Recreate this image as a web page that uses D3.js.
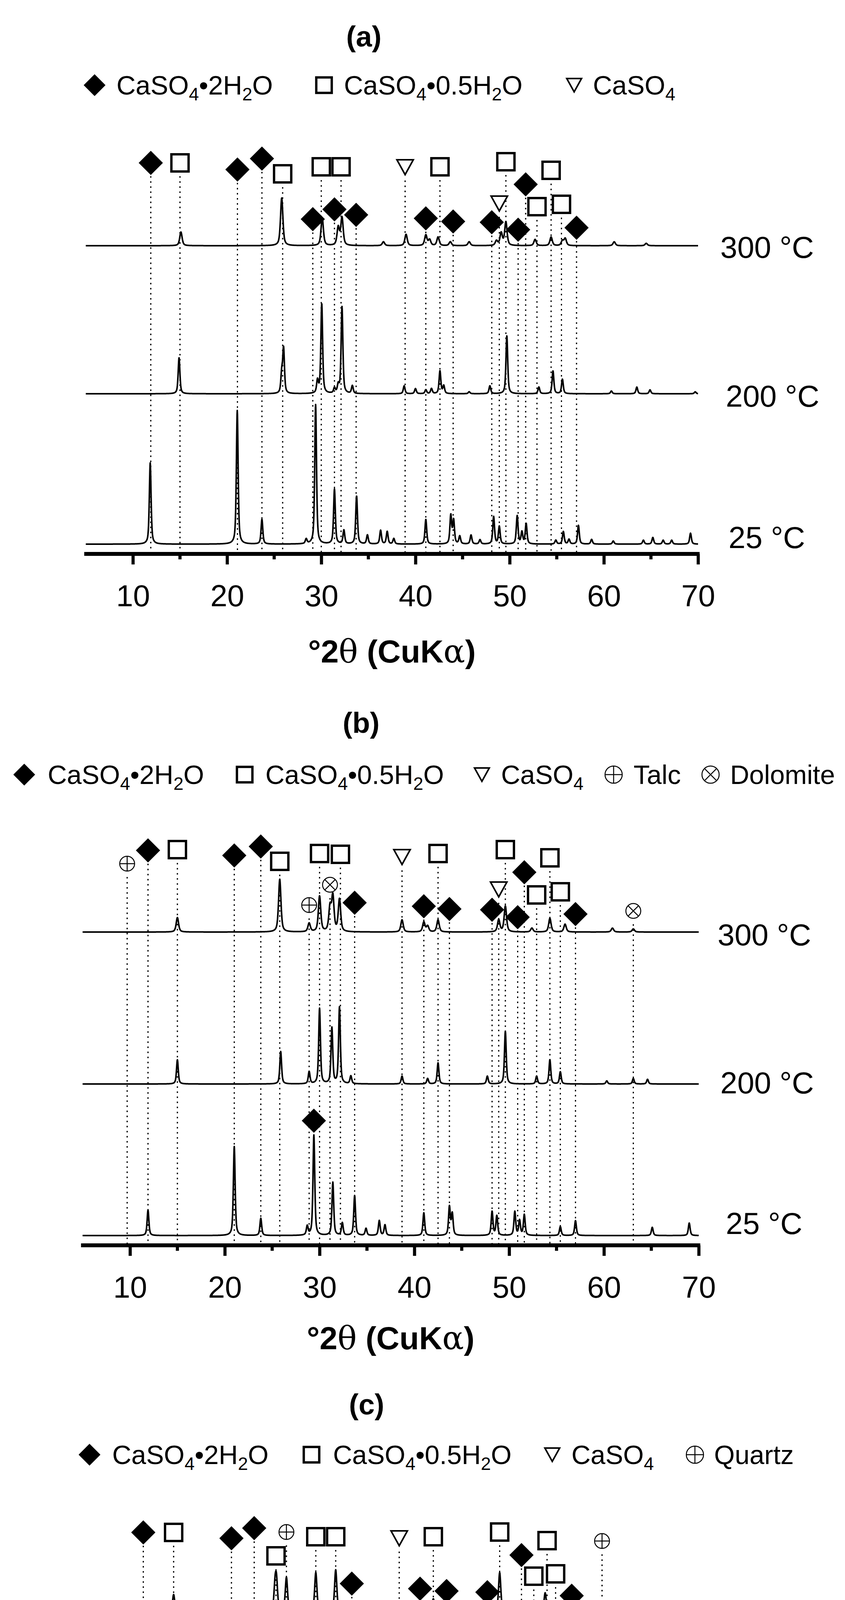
<!DOCTYPE html>
<html><head><meta charset="utf-8">
<script src="https://cdn.jsdelivr.net/npm/d3@7"></script>
<style>body{margin:0;background:#fff}svg{display:block}text{font-family:Arial,"Liberation Sans",sans-serif}</style>
</head><body>
<script>
// ---------- DATA ----------
const xTicks = [10,20,30,40,50,60,70];
const tempLabels = ["300 °C","200 °C","25 °C"];
// peaks: [2theta, height]
const a300 = [[15.1,35],[25.8,122],[30.1,71],[31.8,46],[32.2,71],[36.6,10],[39.0,29],[41.1,27],[41.5,15],[42.4,22],[43.7,10],[45.7,10],[48.6,12],[49.1,32],[49.6,60],[52.7,16],[54.4,22],[55.6,12],[55.9,18],[61.1,10],[64.5,6]];
const a200 = [[14.9,92],[25.8,48],[26.0,113],[29.6,32],[30.05,230],[31.4,13],[31.8,20],[32.2,222],[33.3,20],[38.8,20],[40.0,13],[41.1,10],[41.7,13],[42.6,58],[43.0,20],[45.7,5],[47.9,20],[49.7,148],[53.1,17],[54.6,58],[55.6,37],[60.8,7],[63.5,17],[64.9,10],[69.7,5]];
const a25 = [[11.84,208],[21.08,342],[23.7,63],[28.4,12],[29.4,357],[31.4,140],[32.4,35],[33.75,123],[34.9,23],[36.3,35],[37.0,32],[37.7,14],[41.1,63],[43.75,73],[44.05,60],[44.7,20],[45.9,23],[46.85,11],[48.3,70],[48.9,45],[50.8,72],[51.3,30],[51.75,52],[54.9,10],[55.7,32],[56.3,12],[57.3,48],[58.7,12],[61.0,8],[64.2,10],[65.2,17],[66.3,10],[67.2,10],[69.2,28]];
const b300 = [[15.0,37],[25.8,135],[28.9,22],[30.0,91],[31.1,60],[31.4,89],[32.1,83],[38.7,31],[41.0,25],[41.4,15],[42.5,31],[48.9,31],[49.6,66],[52.4,10],[54.3,35],[55.9,20],[60.9,10],[63.1,8]];
const b200 = [[15.0,62],[25.9,83],[28.9,31],[30.0,193],[31.3,143],[32.1,196],[33.3,20],[38.7,20],[41.4,14],[42.5,54],[47.7,20],[49.6,135],[52.9,20],[54.3,62],[55.4,31],[60.3,8],[63.1,14],[64.6,12]];
const b25 = [[11.9,65],[21.0,228],[23.8,44],[28.7,23],[29.4,257],[31.4,136],[32.4,32],[33.7,102],[34.9,18],[36.3,38],[36.9,27],[41.0,58],[43.7,73],[44.0,55],[48.2,61],[48.7,50],[50.6,61],[51.1,38],[51.6,53],[55.4,23],[57.0,38],[65.1,21],[69.0,32]];
const c300 = [[15.0,50],[25.7,60],[25.85,73],[26.9,93],[30.0,106],[32.1,113],[35.0,12],[38.8,17],[41.0,11],[42.4,39],[47.8,17],[49.4,106],[50.3,15],[53.0,15],[54.2,54],[55.3,28],[60.2,17],[68.1,9]];
const c200 = [[15.0,95],[25.7,80],[25.85,101],[26.9,151],[30.0,196],[31.1,17],[32.1,213],[38.8,17],[42.4,54],[47.8,17],[49.4,129],[50.3,22],[54.2,58],[55.3,34],[60.2,19],[63.1,11],[64.6,8]];
const c25 = [[11.8,120],[21.1,280],[23.5,56],[25.8,22],[26.9,97],[29.4,302],[31.4,101],[32.4,22],[33.7,81],[35.0,17],[36.1,22],[36.7,28],[40.9,45],[43.7,47],[48.1,47],[48.6,34],[50.5,56],[51.7,37],[55.4,17],[57.0,22],[65.0,11],[68.8,17]];
// markers: [type, 2theta, level, hasLine]
const aMarks = [["d",11.9,1001,1],["s",15.0,1001,1],["d",21.1,984,1],["d",23.7,1012,1],["s",25.9,973,1],["s",30.0,991,1],["s",32.1,991,1],["t",38.9,990,1],["s",42.6,991,1],["s",49.6,1004,1],["s",54.4,982,1],["d",51.7,946,1],["t",48.9,897,1],["s",52.9,889,1],["s",55.5,895,1],["d",29.1,857,1],["d",31.4,882,1],["d",33.7,868,1],["d",41.1,859,1],["d",44.0,851,1],["d",48.1,849,1],["d",50.9,830,1],["d",57.1,835,1]];
const bMarks = [["p",9.7,977,1],["d",11.9,1011,1],["s",15.0,1013,1],["d",21.0,998,1],["d",23.8,1021,1],["s",25.8,983,1],["s",30.0,1003,1],["s",32.2,1001,1],["x",31.1,923,1],["p",28.9,871,1],["d",33.7,877,1],["t",38.7,994,1],["s",42.5,1003,1],["d",41.0,868,1],["d",43.7,861,1],["s",49.6,1013,1],["t",48.9,911,1],["d",48.2,859,1],["d",51.6,955,1],["s",54.3,992,1],["d",50.9,840,1],["s",52.9,897,1],["s",55.4,905,1],["d",57.0,848,1],["x",63.1,856,1],["d",29.4,319,0]];
const cMarks = [["d",11.8,1007,1],["s",15.0,1007,1],["d",21.1,992,1],["d",23.5,1018,1],["s",25.8,947,1],["p",26.9,1008,1],["s",30.0,996,1],["s",32.1,996,1],["t",38.8,992,1],["s",42.4,996,1],["s",49.4,1008,1],["s",54.4,986,1],["d",51.7,949,1],["s",53.0,895,1],["s",55.3,901,1],["d",33.8,876,1],["d",41.0,863,1],["d",43.8,857,1],["d",48.1,854,1],["d",57.0,845,1],["p",60.2,985,1],["d",29.4,362,0],["d",31.1,172,0],["d",50.4,127,0]];
const aLegend = [["d","CaSO₄•2H₂O"],["s","CaSO₄•0.5H₂O"],["t","CaSO₄"]];
const bLegend = [["d","CaSO₄•2H₂O"],["s","CaSO₄•0.5H₂O"],["t","CaSO₄"],["p","Talc"],["x","Dolomite"]];
const cLegend = [["d","CaSO₄•2H₂O"],["s","CaSO₄•0.5H₂O"],["t","CaSO₄"],["p","Quartz"]];

// ---------- LAYOUT ----------
const panels = [
 {title:"(a)", tx:931, ty:93, x10:340, x70:1786, axisY:1418, offsets:[789,410,25], traces:[a300,a200,a25], marks:aMarks,
  legend:aLegend, legY:218, legSym:[242,829,1469], legTxt:[298,880,1517], tLab:[[1843,632],[1857,1013],[1864,1375]], titleDy:249},
 {title:"(b)", tx:924, ty:1850, x10:332.6, x70:1787.7, axisY:3188, offsets:[802,413,25], traces:[b300,b200,b25], marks:bMarks,
  legend:bLegend, legY:1983, legSym:[62,626,1233,1570,1818], legTxt:[122,679,1282,1621,1868], tLab:[[1836,2392],[1843,2771],[1857,3131]], titleDy:237},
 {title:"(c)", tx:938, ty:3595, x10:323, x70:1778, axisY:4930, offsets:[798,412,26], traces:[c300,c200,c25], marks:cMarks,
  legend:cLegend, legY:3724, legSym:[229,797,1413,1778], legTxt:[287,852,1462,1827], tLab:[[1826,4135],[1836,4512],[1847,4878]], titleDy:237}
];

const W=2162,H=5245, LF=68;
const svg=d3.select("body").append("svg").attr("width",W).attr("height",H);

function drawSym(g,type,x,y,big){
  const k = big?1:0.9;
  if(type==="d"){const r=31*k;g.append("path").attr("d",`M${x},${y-r}L${x+r},${y}L${x},${y+r}L${x-r},${y}Z`).attr("fill","#000");}
  else if(type==="s"){const s=44*k;g.append("rect").attr("x",x-s/2).attr("y",y-s/2).attr("width",s).attr("height",s).attr("fill","#fff").attr("stroke","#000").attr("stroke-width",6);}
  else if(type==="t"){const w=21*k,h=38*k;g.append("path").attr("d",`M${x-w},${y-h/2}L${x+w},${y-h/2}L${x},${y+h/2}Z`).attr("fill","#fff").attr("stroke","#000").attr("stroke-width",4);}
  else { const r=(big?19:22); g.append("circle").attr("cx",x).attr("cy",y).attr("r",r).attr("fill","#fff").attr("stroke","#000").attr("stroke-width",2.5);
    if(type==="p"){g.append("path").attr("d",`M${x-r},${y}H${x+r}M${x},${y-r}V${y+r}`).attr("stroke","#000").attr("stroke-width",2.5);}
    else {const q=r*0.707;g.append("path").attr("d",`M${x-q},${y-q}L${x+q},${y+q}M${x+q},${y-q}L${x-q},${y+q}`).attr("stroke","#000").attr("stroke-width",2.5);} }
}
function richText(sel,str){
  const parts=str.split(/([₀-₉])/).filter(s=>s.length);
  let shifted=false;
  parts.forEach(p=>{
    if(/[₀-₉]/.test(p)){const d=String.fromCharCode(p.charCodeAt(0)-0x2080+48);
      sel.append("tspan").attr("font-size",LF*0.68).attr("dy",LF*0.22).text(d); shifted=true;}
    else {const t=sel.append("tspan").text(p); if(shifted){t.attr("dy",-LF*0.22);shifted=false;}}
  });
}

panels.forEach(P=>{
  const g=svg.append("g");
  const slope=(P.x70-P.x10)/60;
  const x=d3.scaleLinear().domain([5,70]).range([P.x10-5*slope,P.x70]);
  const y=d3.scaleLinear().domain([0,1100]).range([P.axisY,P.axisY-1100]);
  g.append("text").attr("x",P.tx).attr("y",P.ty).attr("dy","0.35em").attr("text-anchor","middle")
   .attr("font-size",74).attr("font-weight","bold").text(P.title);
  P.legend.forEach((L,i)=>{
    drawSym(g,L[0],P.legSym[i],P.legY,false);
    const t=g.append("text").attr("x",P.legTxt[i]).attr("y",P.legY+24).attr("font-size",LF);
    richText(t,L[1]);
  });
  P.marks.filter(m=>m[3]).forEach(m=>{
    g.append("line").attr("x1",x(m[1])).attr("x2",x(m[1])).attr("y1",y(m[2]-34)).attr("y2",P.axisY)
     .attr("stroke","#000").attr("stroke-width",3).attr("stroke-dasharray","4,9");
  });
  const grid=d3.range(5,70.0001,0.02);
  P.traces.forEach((tr,i)=>{
    const w = i===0?0.15:0.11;
    const pts=grid.map(t=>{let s=0;tr.forEach(([c,h])=>{const u=(t-c)/w;s+=h*(0.6/(1+u*u)+0.4*Math.exp(-0.693*u*u));});return [t,s+P.offsets[i]];});
    g.append("path").datum(pts).attr("fill","none").attr("stroke","#000").attr("stroke-width",4).attr("stroke-linejoin","round")
     .attr("d",d3.line().x(d=>x(d[0])).y(d=>y(d[1])));
    const [lx,ly]=P.tLab[i];
    g.append("text").attr("x",lx).attr("y",ly).attr("dy","0.36em").attr("font-size",78).text(tempLabels[i]);
  });
  P.marks.forEach(m=>drawSym(g,m[0],x(m[1]),y(m[2]),true));
  const ax=g.append("g").attr("transform",`translate(0,${P.axisY})`)
    .call(d3.axisBottom(x).tickValues(xTicks).tickSize(27).tickPadding(52).tickFormat(d3.format("d")));
  ax.select(".domain").remove();
  ax.selectAll(".tick line").attr("stroke-width",8).attr("stroke","#000");
  ax.selectAll(".tick text").attr("font-size",78).attr("font-family","Arial, Liberation Sans, sans-serif").attr("fill","#000");
  g.append("g").attr("transform",`translate(0,${P.axisY})`).selectAll("line").data(d3.range(15,70,10)).join("line")
    .attr("x1",d=>x(d)).attr("x2",d=>x(d)).attr("y1",0).attr("y2",14).attr("stroke","#000").attr("stroke-width",8);
  g.append("line").attr("x1",x(5)-4).attr("x2",x(70)+4).attr("y1",P.axisY).attr("y2",P.axisY).attr("stroke","#000").attr("stroke-width",10);
  const at=g.append("text").attr("x",(x(5)+x(70))/2).attr("y",P.axisY+P.titleDy).attr("dy","0.35em").attr("text-anchor","middle")
    .attr("font-size",82).attr("font-weight","bold");
  at.append("tspan").text("°2");at.append("tspan").attr("font-family","DejaVu Serif, serif").attr("font-weight","normal").text("θ");
  at.append("tspan").text(" (CuK");at.append("tspan").attr("font-family","DejaVu Serif, serif").attr("font-weight","normal").text("α");at.append("tspan").text(")");
});
</script>
</body></html>
